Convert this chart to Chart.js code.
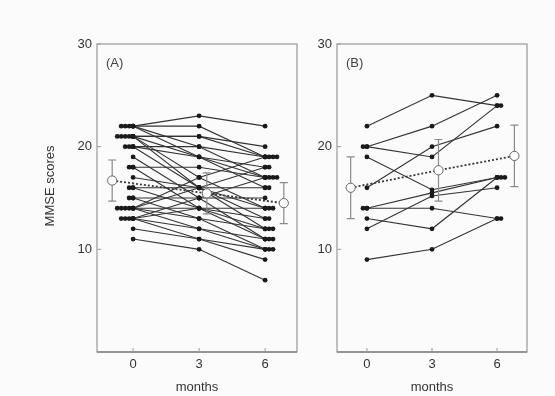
<!DOCTYPE html>
<html>
<head>
<meta charset="utf-8">
<script src="https://cdn.jsdelivr.net/npm/chart.js@4.4.1/dist/chart.umd.min.js"></script>
<style>
  html, body { margin: 0; padding: 0; background: #fbfbfb; }
  #wrap { position: relative; width: 555px; height: 396px; overflow: hidden; }
  canvas { position: absolute; top: 0; }
  #chartA { left: 0; }
  #chartB { left: 310px; }
</style>
</head>
<body>
<div id="wrap">
  <canvas id="chartA" width="310" height="396"></canvas>
  <canvas id="chartB" width="245" height="396"></canvas>
</div>
<script>
const months = [0, 3, 6]
const yTicks = [10, 20, 30]

// (A) MMSE score of each patient at 0, 3 and 6 months
const scoresA0 = [22, 22, 22, 22, 21, 21, 21, 21, 21, 20, 20, 20, 19, 18, 18, 17, 16, 16, 15, 15, 14, 14, 14, 14, 14, 13, 13, 13, 13, 12, 11]
const scoresA3 = [23, 22, 20, 19, 21, 21, 19, 17, 16, 20, 19, 16, 15, 18, 14, 16, 16, 14, 15, 13, 17, 16, 14, 13, 12, 15, 14, 12, 11, 11, 10]
const scoresA6 = [22, 19, 17, 16, 20, 19, 17, 14, 12, 19, 18, 13, 11, 17, 11, 16, 14, 12, 15, 10, 19, 18, 14, 12, 11, 17, 13, 10, 10, 9, 7]

// (B)
const scoresB0 = [22, 20, 20, 16, 19, 14, 12, 14, 13, 9]
const scoresB3 = [25, 22, 19, 20, 15.8, 15.5, 15.2, 14, 12, 10]
const scoresB6 = [24, 25, 24, 22, 17, 17, 16, 13, 17, 13]

// group mean +- SD, drawn beside each time point
const meanMonthsA = [-0.95, 3.35, 6.85]
const meanA = [16.7, 15.45, 14.5]
const sdA = [2.0, 2.0, 2.0]
const meanMonthsB = [-0.75, 3.3, 6.8]
const meanB = [16.0, 17.7, 19.1]
const sdB = [3.0, 3.0, 3.0]

const tieStep = 0.18
const font = { family: "'Liberation Sans', Arial, sans-serif", size: 13 }
const textColor = "#333"

function patientSets(s0, s3, s6) {
  return s0.map((v, i) => ({
    data: [
      { x: months[0], y: v },
      { x: months[1], y: s3[i] },
      { x: months[2], y: s6[i] },
    ],
    showLine: true,
    borderColor: "#333",
    borderWidth: 1.1,
    pointRadius: 2.4,
    pointBackgroundColor: "#1a1a1a",
    pointBorderWidth: 0,
    order: 3,
  }))
}

// extra dots for tied scores, stacked sideways
function tieMarks(values, at, dir) {
  const seen = {}
  const pts = []
  values.forEach(v => {
    const k = seen[v] || 0
    if (k > 0) pts.push({ x: at + dir * k * tieStep, y: v })
    seen[v] = k + 1
  })
  return pts
}

function tieSet(s0, s6) {
  return {
    data: tieMarks(s0, months[0], -1).concat(tieMarks(s6, months[2], 1)),
    showLine: false,
    pointRadius: 2.4,
    pointBackgroundColor: "#1a1a1a",
    pointBorderWidth: 0,
    order: 2,
  }
}

function meanSet(pos, mean, sd) {
  return {
    data: pos.map((x, i) => ({ x, y: mean[i] })),
    sd: sd,
    showLine: true,
    borderColor: "#3a3a3a",
    borderWidth: 1.8,
    borderDash: [2, 2],
    pointRadius: 4.6,
    pointBackgroundColor: "#fff",
    pointBorderColor: "#666",
    pointBorderWidth: 1,
    order: 0,
  }
}

const errorBars = {
  id: "errorBars",
  beforeDatasetDraw(chart, args) {
    const ds = chart.data.datasets[args.index]
    if (!ds.sd) return
    const { ctx, scales: { x, y } } = chart
    ctx.save()
    ctx.strokeStyle = "#8a8a8a"
    ctx.lineWidth = 1.2
    ds.data.forEach((p, i) => {
      const px = x.getPixelForValue(p.x)
      const top = y.getPixelForValue(p.y + ds.sd[i])
      const bot = y.getPixelForValue(p.y - ds.sd[i])
      ctx.beginPath()
      ctx.moveTo(px, top); ctx.lineTo(px, bot)
      ctx.moveTo(px - 4, top); ctx.lineTo(px + 4, top)
      ctx.moveTo(px - 4, bot); ctx.lineTo(px + 4, bot)
      ctx.stroke()
    })
    ctx.restore()
  },
}

const frame = {
  id: "frame",
  afterDraw(chart, args, opts) {
    const { ctx, chartArea: a, scales: { x, y } } = chart
    ctx.save()
    ctx.lineWidth = 1.2
    ctx.strokeStyle = "#9a9a9a"
    ctx.strokeRect(a.left, a.top, a.right - a.left, a.bottom - a.top)
    ctx.strokeStyle = "#6a6a72"
    ctx.beginPath()
    ctx.moveTo(a.left, a.bottom); ctx.lineTo(a.right, a.bottom)
    ctx.stroke()
    ctx.strokeStyle = "#999"
    ctx.lineWidth = 1
    ctx.beginPath()
    months.forEach(m => {
      const px = x.getPixelForValue(m)
      ctx.moveTo(px, a.bottom); ctx.lineTo(px, a.bottom - 4)
    })
    yTicks.forEach(t => {
      const py = y.getPixelForValue(t)
      ctx.moveTo(a.left, py); ctx.lineTo(a.left + 4, py)
    })
    ctx.stroke()
    ctx.fillStyle = "#444"
    ctx.font = "13px " + font.family
    ctx.textBaseline = "middle"
    ctx.fillText(opts.label, a.left + 9, a.top + 19)
    if (opts.yTitle) {
      ctx.fillStyle = textColor
      ctx.translate(50, 186)
      ctx.rotate(-Math.PI / 2)
      ctx.textAlign = "center"
      ctx.fillText(opts.yTitle, 0, 0)
    }
    ctx.restore()
  },
}

function makeOptions(xMin, xMax, yWidth, padRight, label, yTitle) {
  return {
    responsive: false,
    animation: false,
    layout: { padding: { top: 44, right: padRight, bottom: 0, left: 0 } },
    plugins: {
      legend: { display: false },
      tooltip: { enabled: false },
      frame: { label, yTitle },
    },
    scales: {
      x: {
        type: "linear",
        min: xMin,
        max: xMax,
        grid: { display: false, drawTicks: false },
        border: { display: false },
        afterBuildTicks: s => { s.ticks = months.map(v => ({ value: v })) },
        afterFit: s => { s.height = 44 },
        ticks: { padding: 5, font, color: textColor },
        title: { display: true, text: "months", padding: { top: 0, bottom: 1 }, font, color: textColor },
      },
      y: {
        min: 0,
        max: 30,
        grid: { display: false, drawTicks: false },
        border: { display: false },
        afterBuildTicks: s => { s.ticks = yTicks.map(v => ({ value: v })) },
        afterFit: s => { s.width = yWidth },
        ticks: { padding: 5, font, color: textColor },
      },
    },
  }
}

new Chart(document.getElementById("chartA"), {
  type: "scatter",
  data: {
    datasets: [meanSet(meanMonthsA, meanA, sdA), tieSet(scoresA0, scoresA6)]
      .concat(patientSets(scoresA0, scoresA3, scoresA6)),
  },
  options: makeOptions(-1.64, 7.45, 97, 13, "(A)", "MMSE scores"),
  plugins: [errorBars, frame],
})

new Chart(document.getElementById("chartB"), {
  type: "scatter",
  data: {
    datasets: [meanSet(meanMonthsB, meanB, sdB), tieSet(scoresB0, scoresB6)]
      .concat(patientSets(scoresB0, scoresB3, scoresB6)),
  },
  options: makeOptions(-1.38, 7.38, 27, 28, "(B)", null),
  plugins: [errorBars, frame],
})
</script>
</body>
</html>
